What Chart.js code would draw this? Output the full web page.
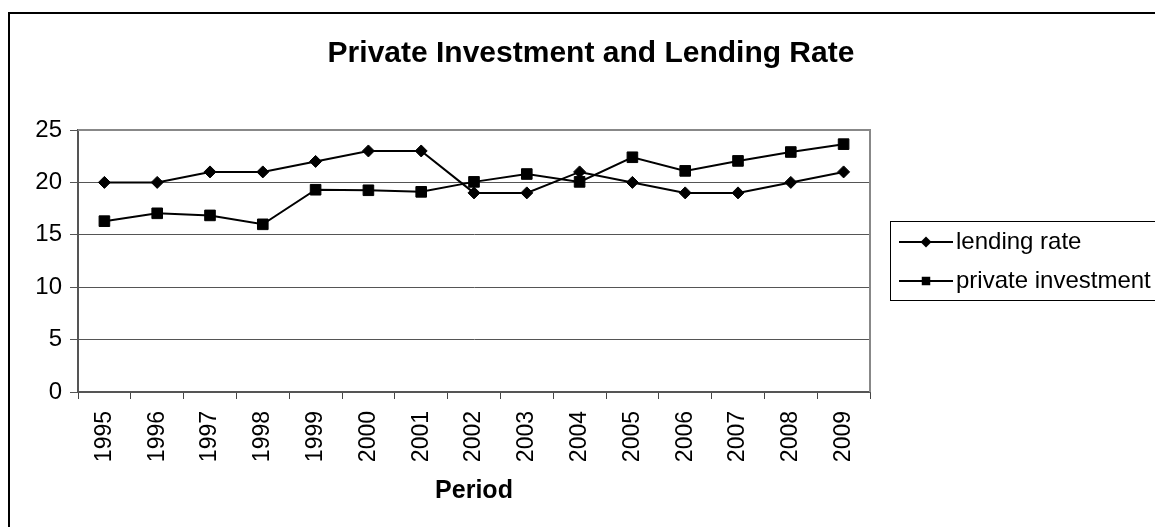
<!DOCTYPE html>
<html>
<head>
<meta charset="utf-8">
<script src="https://cdn.jsdelivr.net/npm/chart.js@4.4.1/dist/chart.umd.min.js"></script>
<style>
  body { margin: 0; background: #fff; }
  #wrap { width: 1155px; height: 527px; }
</style>
</head>
<body>
<div id="wrap"><canvas id="myChart"></canvas></div>
<script>
// values
const years = ['1995', '1996', '1997', '1998', '1999', '2000', '2001', '2002',
               '2003', '2004', '2005', '2006', '2007', '2008', '2009'];
const lendingRate = [20, 20, 21, 21, 22, 23, 23, 19, 19, 21, 20, 19, 19, 20, 21];
const privateInvestment = [16.3, 17.05, 16.85, 16.0, 19.3, 19.25, 19.1, 20.05,
                           20.8, 20.05, 22.4, 21.1, 22.05, 22.9, 23.65];
const yMin = 0, yMax = 25, yStep = 5;

const FONT = '"Liberation Sans", Arial, sans-serif';

// outer frame + right edge of plot area
const frame = {
  id: 'frame',
  beforeDraw(chart) {
    const ctx = chart.ctx;
    ctx.save();
    ctx.fillStyle = '#000';
    ctx.fillRect(8, 12, 1160, 2);
    ctx.fillRect(8, 12, 2, 520);
    ctx.restore();
  },
  afterDatasetsDraw(chart) {
    const a = chart.chartArea;
    const ctx = chart.ctx;
    ctx.save();
    ctx.strokeStyle = '#888';
    ctx.lineWidth = 2;
    ctx.beginPath();
    ctx.moveTo(a.left, a.top);
    ctx.lineTo(a.right, a.top);
    ctx.lineTo(a.right, a.bottom);
    ctx.stroke();
    ctx.restore();
  }
};

// boxed legend on the right, like the original
const boxLegend = {
  id: 'boxLegend',
  afterDraw(chart) {
    const ctx = chart.ctx;
    const rows = [242, 281];
    ctx.save();
    ctx.strokeStyle = '#000';
    ctx.lineWidth = 1;
    ctx.strokeRect(890.5, 221.5, 300, 79);
    chart.data.datasets.forEach((ds, i) => {
      const y = rows[i];
      ctx.strokeStyle = '#000';
      ctx.lineWidth = 2;
      ctx.beginPath();
      ctx.moveTo(899, y);
      ctx.lineTo(953, y);
      ctx.stroke();
      ctx.fillStyle = '#000';
      Chart.helpers.drawPoint(ctx, {
        pointStyle: ds.pointStyle, radius: ds.legendRadius, rotation: 0, borderWidth: 0
      }, 926, y);
      ctx.font = '24px ' + FONT;
      ctx.textBaseline = 'middle';
      ctx.textAlign = 'left';
      ctx.fillText(ds.label, 956, y);
    });
    ctx.restore();
  }
};

const ctx = document.getElementById('myChart').getContext('2d');
const myChart = new Chart(ctx, {
  type: 'line',
  data: {
    labels: years,
    datasets: [
      {
        label: 'lending rate',
        data: lendingRate,
        borderColor: '#000',
        borderWidth: 2,
        pointStyle: 'rectRot',
        pointRadius: 6,
        pointBackgroundColor: '#000',
        pointBorderColor: '#000',
        pointBorderWidth: 1,
        legendRadius: 5.5,
        tension: 0
      },
      {
        label: 'private investment',
        data: privateInvestment,
        borderColor: '#000',
        borderWidth: 2,
        pointStyle: 'rect',
        pointRadius: 7.5,
        pointBackgroundColor: '#000',
        pointBorderColor: '#000',
        pointBorderWidth: 1,
        legendRadius: 6,
        tension: 0
      }
    ]
  },
  options: {
    responsive: true,
    maintainAspectRatio: false,
    animation: false,
    layout: { padding: { left: 27, right: 0, top: 0, bottom: 0 } },
    plugins: {
      legend: { display: false },
      tooltip: { enabled: false },
      title: {
        display: true,
        text: 'Private Investment and Lending Rate',
        color: '#000',
        font: { family: FONT, size: 30, weight: 'bold' },
        padding: { top: 36, bottom: 58 }
      }
    },
    scales: {
      x: {
        offset: true,
        grid: { offset: true, drawOnChartArea: false, drawTicks: true, tickLength: 7, color: '#444' },
        border: { color: '#555', width: 2 },
        ticks: {
          color: '#000',
          font: { family: FONT, size: 23 },
          minRotation: 90,
          maxRotation: 90,
          autoSkip: false,
          padding: 12
        },
        title: {
          display: true,
          text: 'Period',
          color: '#000',
          font: { family: FONT, size: 25, weight: 'bold' },
          padding: { top: 0, bottom: 21 }
        },
        afterFit(scale) { scale.height = 135; }
      },
      y: {
        min: yMin,
        max: yMax,
        ticks: {
          stepSize: yStep,
          color: '#000',
          font: { family: FONT, size: 24 },
          padding: 8
        },
        grid: { color: '#555', lineWidth: 1, tickLength: 8 },
        border: { color: '#555', width: 2 },
        afterFit(scale) { scale.width = 51; }
      },
      spacer: {
        position: 'right',
        display: true,
        grid: { display: false },
        border: { display: false },
        ticks: { display: false },
        afterFit(scale) { scale.width = 285; }
      }
    }
  },
  plugins: [frame, boxLegend]
});
</script>
</body>
</html>
